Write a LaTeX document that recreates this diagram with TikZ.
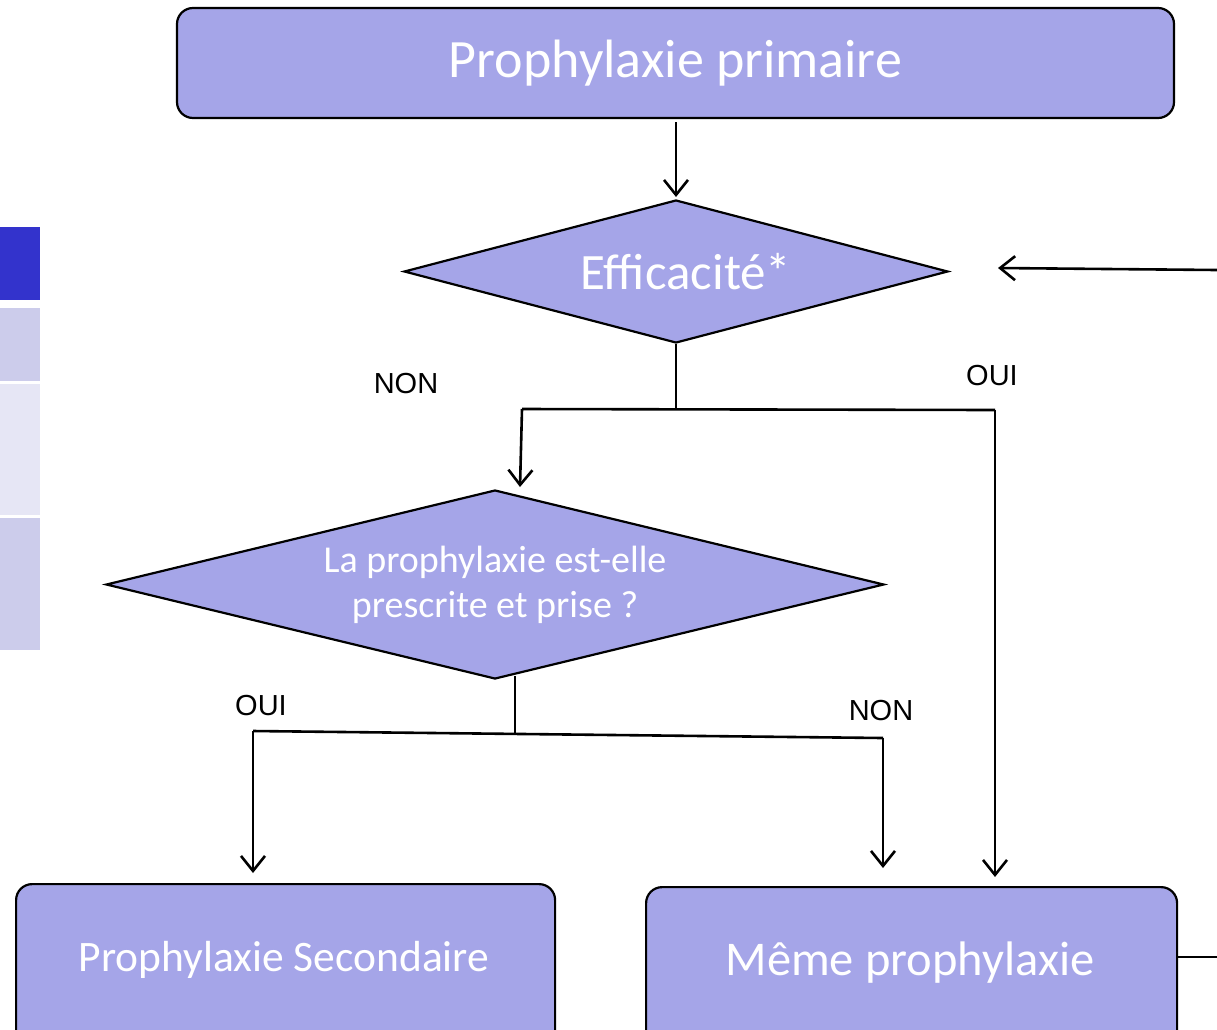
\documentclass[tikz,border=0pt]{standalone}
\usepackage{fontspec}
\setmainfont{Carlito}
\newfontfamily\arialf{Liberation Sans}
\usetikzlibrary{shapes.geometric,arrows.meta}
\definecolor{boxfill}{RGB}{165,165,232}
\definecolor{bardark}{RGB}{51,51,204}
\definecolor{barlight}{RGB}{204,204,235}
\definecolor{barpale}{RGB}{230,230,245}
\tikzset{
  box/.style={draw=black,line width=2.2pt,fill=boxfill,rounded corners=16pt,text=white,inner sep=0pt},
  dia/.style={draw=black,line width=2.2pt,fill=boxfill,diamond,text=white,inner sep=0pt,align=center},
  conn/.style={draw=black,line width=2.6pt},
  arr/.style={conn,-{Straight Barb[length=15pt,width=24pt,line width=2.6pt]}},
  lbl/.style={font=\arialf\fontsize{29}{34}\selectfont,text=black}
}
\begin{document}
\begin{tikzpicture}[x=1pt,y=-1pt]
\useasboundingbox (0,0) rectangle (1217,1029);
\clip (0,0) rectangle (1217,1029);
% left bars
\fill[bardark] (0,227) rectangle (40,300);
\fill[barlight] (0,308) rectangle (40,381);
\fill[barpale] (0,384) rectangle (40,515);
\fill[barlight] (0,518) rectangle (40,650);
% top box
\node[box,minimum width=997pt,minimum height=110pt,font=\fontsize{54}{64}\selectfont] (top) at (675.5,63) {\raisebox{-3pt}{Prophylaxie primaire}};
% diamond 1
\node[dia,shape aspect=3.804,minimum width=544pt,minimum height=143pt,font=\fontsize{51}{60}\selectfont] (d1) at (676,271.5) {\hspace*{20pt}Efficacité*};
% diamond 2
\node[dia,shape aspect=4.116,minimum width=778pt,minimum height=189pt,font=\fontsize{38}{45}\selectfont] (d2) at (495,584.5) {La prophylaxie est-elle\\prescrite et prise ?};
% bottom boxes
\node[box,minimum width=539pt,minimum height=170pt,anchor=north west] (sec) at (15,883) {};
\node[font=\fontsize{43.5}{50}\selectfont,text=white] (sect) at (284,960) {Prophylaxie Secondaire};
\node[box,minimum width=531pt,minimum height=170pt,anchor=north west] (same) at (645,886) {};
\node[font=\fontsize{48.5}{56}\selectfont,text=white] (samet) at (910,963) {Même prophylaxie};
% coordinates
\coordinate (t1) at (676,122);
\coordinate (t2) at (676,197);
\coordinate (r1) at (1217,270);
\coordinate (r2) at (998,268);
\coordinate (j1) at (676,409);
\coordinate (jl) at (522,409);
\coordinate (jr) at (995,410);
\coordinate (jlb) at (520,487);
\coordinate (jrb) at (995,877);
\coordinate (k0) at (515,676);
\coordinate (k1) at (515,733);
\coordinate (kl) at (253,731);
\coordinate (kr) at (883,738);
\coordinate (klb) at (253,873);
\coordinate (krb) at (883,868);
\coordinate (s1) at (1176,957);
\coordinate (s2) at (1217,957);
% connectors
\draw[arr] (t1) -- (t2);
\draw[arr] (r1) -- (r2);
\draw[conn] (d1.south) -- (j1);
\draw[conn] (jl) -- (jr);
\draw[arr] (jl) -- (jlb);
\draw[arr] (jr) -- (jrb);
\draw[conn] (k0) -- (k1);
\draw[conn] (kl) -- (kr);
\draw[arr] (kl) -- (klb);
\draw[arr] (kr) -- (krb);
\draw[conn] (s1) -- (s2);
% labels
\node[lbl] (n1) at (406,384) {NON};
\node[lbl] (o1) at (992,376) {OUI};
\node[lbl] (o2) at (261,706) {OUI};
\node[lbl] (n2) at (881,711) {NON};
\end{tikzpicture}
\end{document}
